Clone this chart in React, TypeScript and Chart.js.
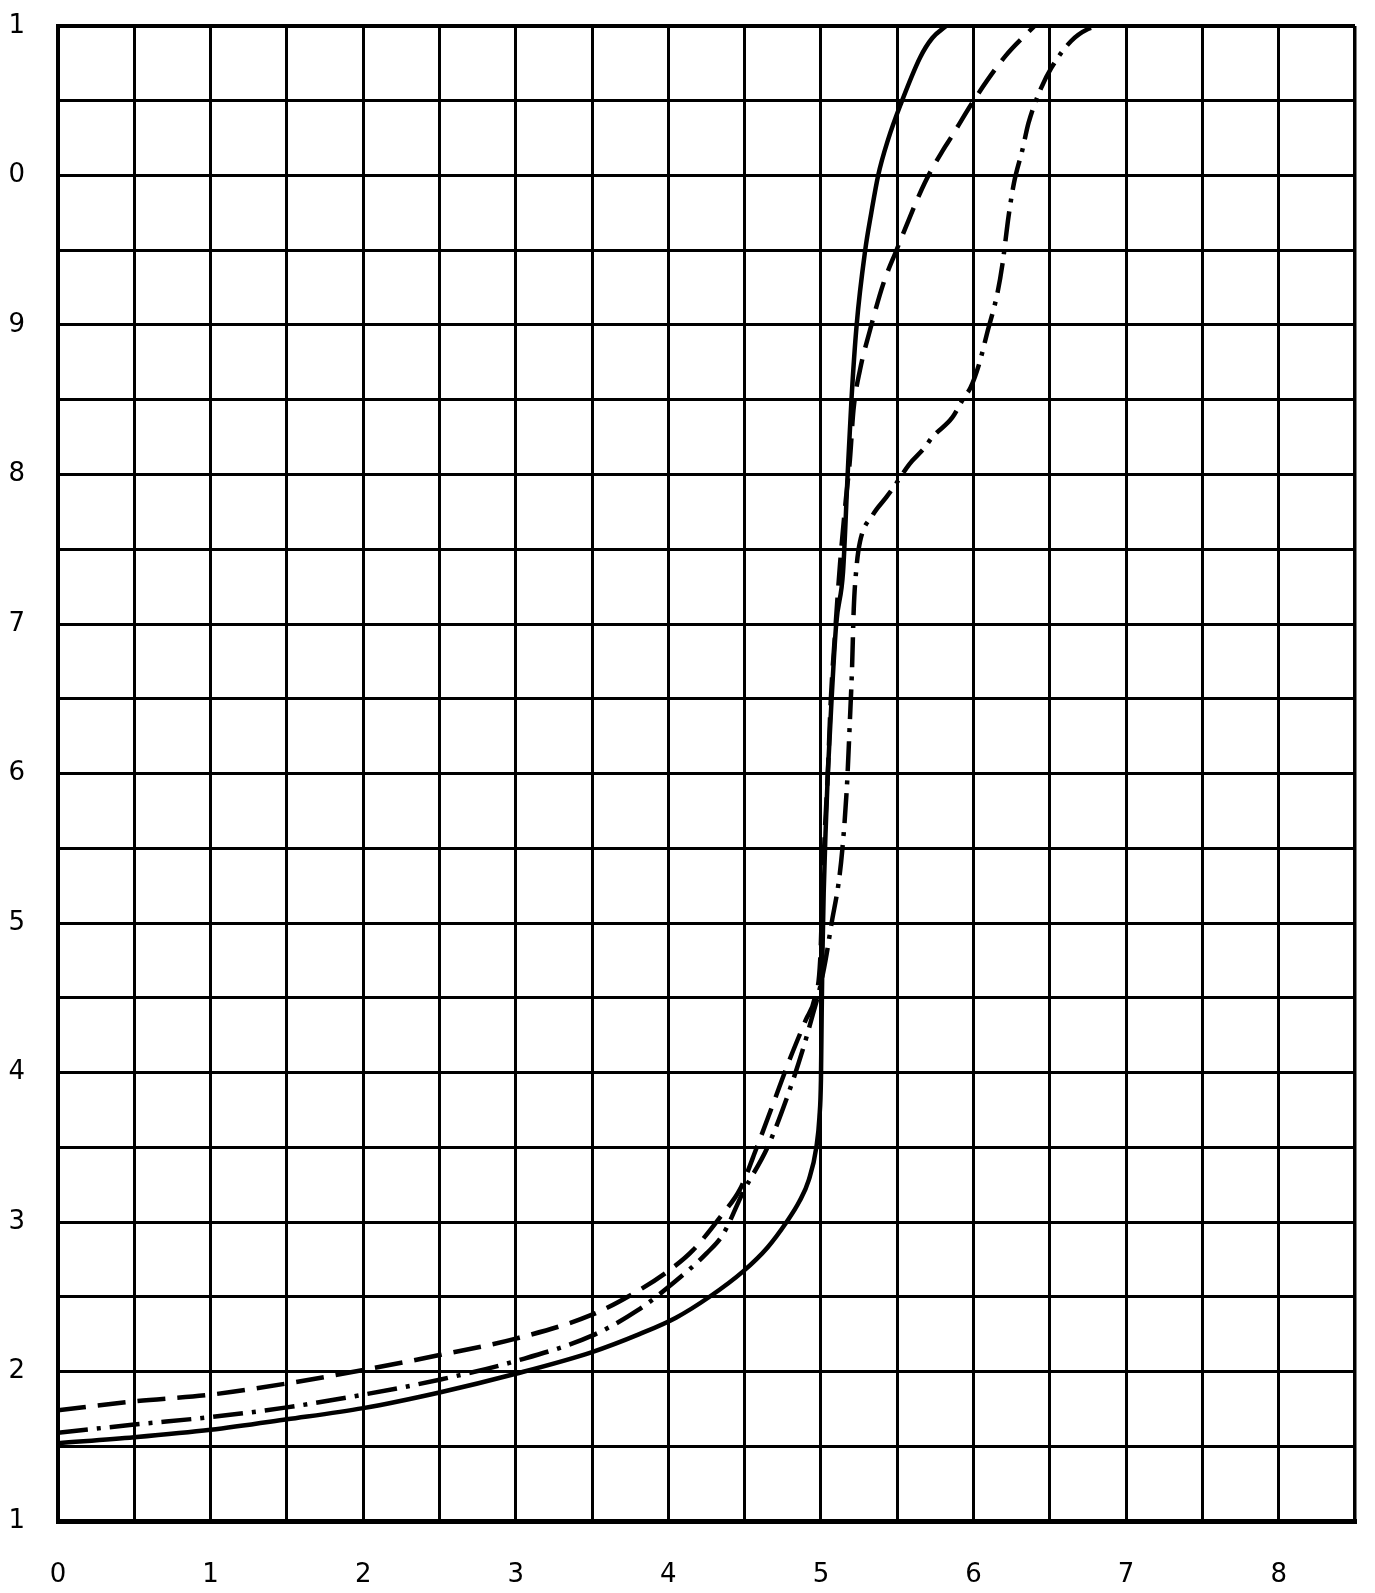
import { useEffect, useRef } from "react";
import { Chart, registerables } from "chart.js";

Chart.register(...registerables);

// Axis tick labels (the scan shows the last digit only: 10 -> "0", 11 -> "1")
const xTickLabels = ["0", "1", "2", "3", "4", "5", "6", "7", "8"];
const yTickLabels = ["1", "2", "3", "4", "5", "6", "7", "8", "9", "0", "1"];

// Solid curve [x, y]
const solidCurve = [
  [0, 1.52], [0.5, 1.56], [1, 1.61], [1.5, 1.68], [2, 1.755], [2.5, 1.86],
  [3, 1.985], [3.5, 2.13], [3.81, 2.25], [4.05, 2.36], [4.27, 2.5],
  [4.49, 2.67], [4.65, 2.83], [4.775, 3.0], [4.86, 3.14], [4.92, 3.28],
  [4.97, 3.5], [4.99, 3.7], [5.0, 3.95], [5.005, 4.4], [5.01, 4.8],
  [5.018, 5.2], [5.03, 5.6], [5.045, 6.0], [5.07, 6.5], [5.1, 7.0],
  [5.145, 7.35], [5.175, 8.0], [5.2, 8.5], [5.234, 9.0], [5.29, 9.5],
  [5.33, 9.75], [5.375, 10.0], [5.44, 10.24], [5.52, 10.47], [5.65, 10.79],
  [5.73, 10.92], [5.82, 11.0],
];

// Dashed curve [x, y]
const dashedCurve = [
  [0, 1.74], [0.5, 1.8], [1, 1.845], [1.5, 1.92], [2, 2.01], [2.5, 2.11],
  [3, 2.22], [3.5, 2.38], [3.81, 2.545], [4.01, 2.68], [4.16, 2.81],
  [4.36, 3.06], [4.47, 3.22], [4.58, 3.5], [4.69, 3.8], [4.8, 4.1],
  [4.9, 4.35], [4.96, 4.5], [4.995, 4.75], [5.01, 5.2], [5.025, 5.6],
  [5.045, 6.0], [5.065, 6.5], [5.09, 6.9], [5.125, 7.4], [5.16, 7.8],
  [5.19, 8.1], [5.213, 8.43], [5.256, 8.7], [5.32, 8.96], [5.41, 9.28],
  [5.495, 9.5], [5.55, 9.64], [5.68, 9.95], [5.8, 10.17], [5.85, 10.25],
  [6.0, 10.5], [6.21, 10.8], [6.38, 10.98], [6.4, 11.0],
];

// Dash-dot curve [x, y]
const dashDotCurve = [
  [0, 1.59], [0.5, 1.645], [1, 1.695], [1.5, 1.76], [2, 1.845], [2.5, 1.945],
  [3, 2.07], [3.5, 2.24], [3.8, 2.41], [4.03, 2.59], [4.25, 2.79],
  [4.36, 2.92], [4.49, 3.2], [4.65, 3.5], [4.78, 3.84], [4.88, 4.15],
  [4.95, 4.4], [4.985, 4.53], [5.03, 4.75], [5.07, 5.0], [5.116, 5.27],
  [5.14, 5.49], [5.17, 5.91], [5.19, 6.36], [5.204, 6.71], [5.215, 7.1],
  [5.234, 7.39], [5.256, 7.55], [5.34, 7.73], [5.43, 7.85], [5.48, 7.92],
  [5.58, 8.07], [5.68, 8.18], [5.73, 8.25], [5.86, 8.38], [5.94, 8.52],
  [5.98, 8.58], [6.037, 8.74], [6.09, 8.95], [6.156, 9.21], [6.19, 9.41],
  [6.23, 9.73], [6.265, 9.95], [6.32, 10.17], [6.36, 10.35], [6.445, 10.59],
  [6.51, 10.72], [6.64, 10.9], [6.75, 10.98], [6.82, 11.0],
];

const FONT = { family: "'DejaVu Sans', sans-serif", size: 26 };

export default function App() {
  const ref = useRef<HTMLCanvasElement>(null);

  useEffect(() => {
    const toPts = (a: number[][]) => a.map(([x, y]) => ({ x, y }));
    const base = {
      borderColor: "#000",
      borderWidth: 4.5,
      pointRadius: 0,
      fill: false,
      cubicInterpolationMode: "monotone" as const,
    };
    const chart = new Chart(ref.current!, {
      type: "line",
      data: {
        datasets: [
          { ...base, data: toPts(solidCurve) },
          { ...base, data: toPts(dashedCurve), borderDash: [28, 12] },
          { ...base, data: toPts(dashDotCurve), borderDash: [30, 9, 4, 9] },
        ],
      },
      options: {
        animation: false,
        responsive: false,
        plugins: { legend: { display: false }, tooltip: { enabled: false } },
        layout: { padding: { top: 26, right: 20, left: 0, bottom: 0 } },
        scales: {
          x: {
            type: "linear",
            min: 0,
            max: 8.5,
            afterFit: (s: any) => {
              s.height = 72;
              s.paddingLeft = 0;
              s.paddingRight = 0;
            },
            ticks: {
              stepSize: 0.5,
              autoSkip: false,
              maxRotation: 0,
              padding: 39,
              color: "#000",
              font: FONT,
              callback: (v: any) =>
                Number.isInteger(v) ? xTickLabels[v] ?? "" : "",
            },
            grid: {
              color: "#000",
              drawTicks: false,
              lineWidth: (c: any) => (c.tick && c.tick.value === 8.5 ? 3.5 : 3),
            },
            border: { color: "#000", width: 5 },
          },
          y: {
            type: "linear",
            min: 1,
            max: 11,
            afterFit: (s: any) => {
              s.width = 58;
              s.paddingTop = 0;
              s.paddingBottom = 0;
            },
            ticks: {
              stepSize: 0.5,
              autoSkip: false,
              padding: 33,
              color: "#000",
              font: FONT,
              callback: (v: any) =>
                Number.isInteger(v) ? yTickLabels[v - 1] ?? "" : "",
            },
            grid: {
              color: "#000",
              drawTicks: false,
              lineWidth: (c: any) => (c.tick && c.tick.value === 11 ? 4 : 3),
            },
            border: { color: "#000", width: 4 },
          },
        },
      },
    });
    return () => chart.destroy();
  }, []);

  return (
    <div
      style={{
        position: "absolute",
        left: 0,
        top: 0,
        width: 1375,
        height: 1593,
        background: "#fff",
      }}
    >
      <canvas ref={ref} width={1375} height={1593} style={{ display: "block" }} />
    </div>
  );
}
